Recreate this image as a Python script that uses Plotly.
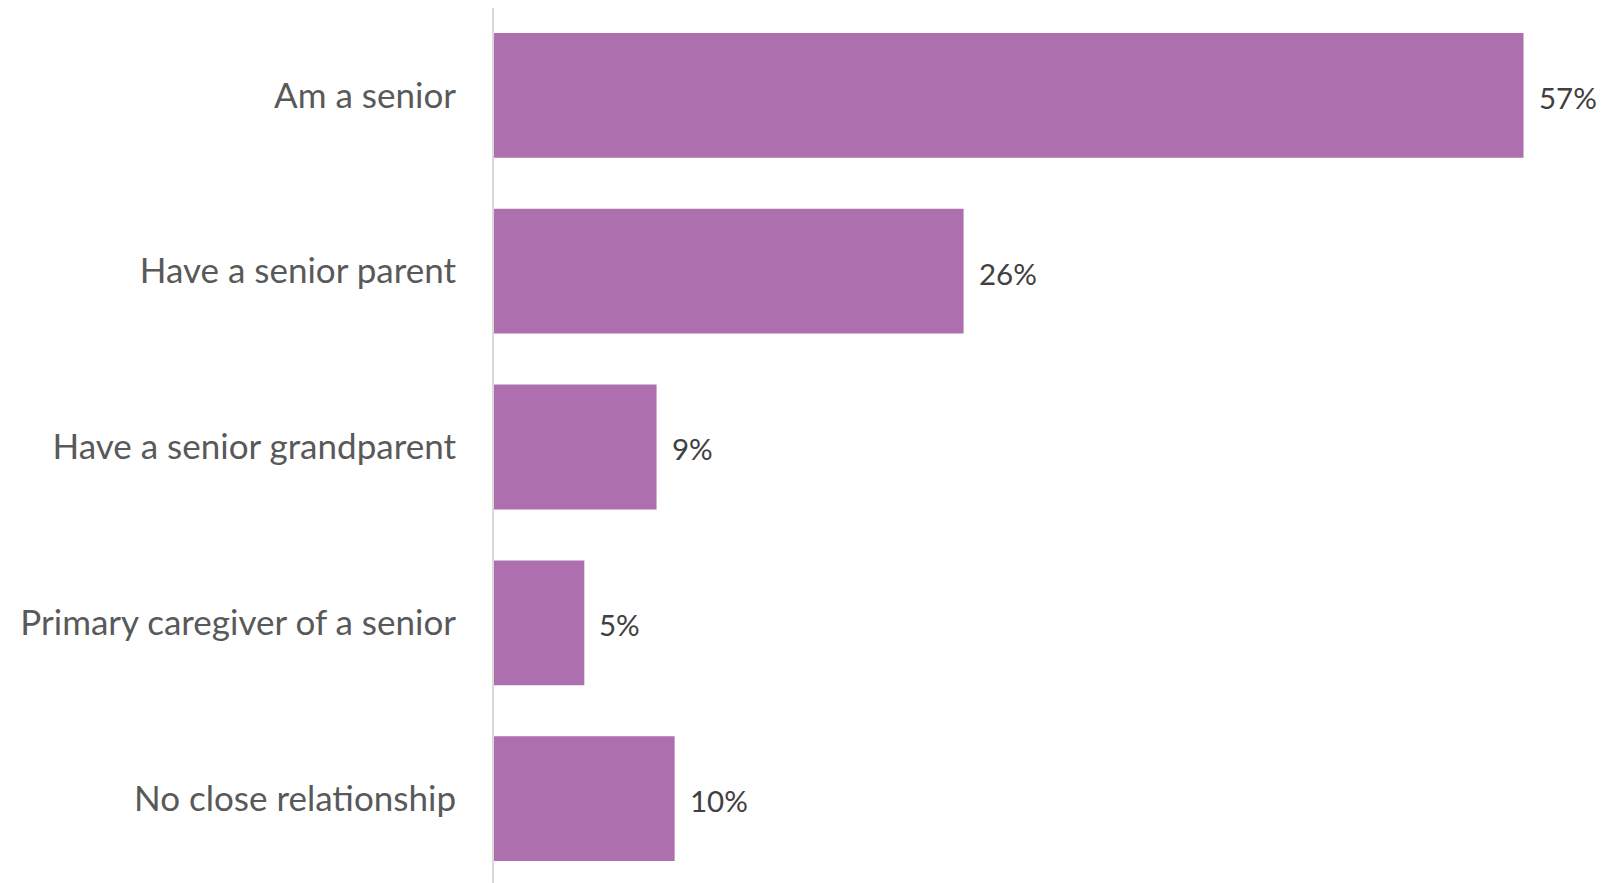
import plotly.graph_objects as go

categories = ["Am a senior", "Have a senior parent", "Have a senior grandparent",
              "Primary caregiver of a senior", "No close relationship"]
values = [57, 26, 9, 5, 10]
value_labels = ["57%", "26%", "9%", "5%", "10%"]

fig = go.Figure()
fig.add_trace(go.Bar(
    y=categories, x=values, orientation="h",
    marker=dict(color="#AD6FAD", line=dict(width=0)),
    width=0.71,
))

for c, v, t in zip(categories, values, value_labels):
    fig.add_annotation(x=v, y=c, text=t, showarrow=False, xanchor="left",
                       xshift=13, yshift=-2,
                       font=dict(family="Source Sans Pro, Lato", size=29.5, color="#404040"))

fig.update_layout(
    width=1603, height=883,
    margin=dict(l=494, r=0, t=8, b=0),
    paper_bgcolor="white", plot_bgcolor="white",
    showlegend=False,
    font=dict(family="Source Sans Pro, Lato", color="#595959"),
    xaxis=dict(range=[0, 61.4], showgrid=False, zeroline=False, showticklabels=False,
               showline=False),
    yaxis=dict(type="category", range=[4.48, -0.497], showgrid=False, zeroline=False,
               showline=True, linecolor="#D9D9D9", linewidth=2,
               ticks="", ticklabelstandoff=29,
               tickfont=dict(family="Source Sans Pro, Lato", size=35, color="#595959")),
)

fig.write_html("out.html")
